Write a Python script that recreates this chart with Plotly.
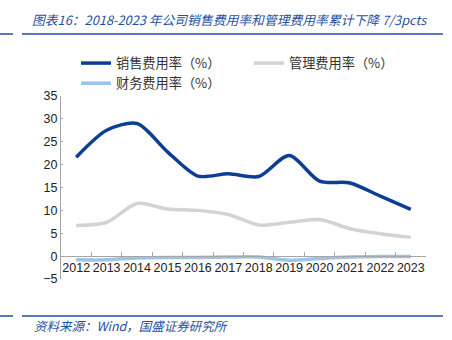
import plotly.graph_objects as go

years = ["2012", "2013", "2014", "2015", "2016", "2017", "2018", "2019", "2020", "2021", "2022", "2023"]
sales = [21.6, 27.5, 29.0, 22.8, 17.5, 18.0, 17.4, 22.0, 16.4, 16.0, 13.1, 10.2]
admin = [6.7, 7.4, 11.5, 10.3, 10.0, 9.1, 6.8, 7.4, 8.0, 6.0, 4.9, 4.1]
finance = [-0.8, -0.8, -0.4, -0.3, -0.3, -0.2, -0.2, -0.9, -0.5, -0.2, -0.1, -0.1]
names = ["销售费用率（%）", "管理费用率（%）", "财务费用率（%）"]
colors = ["#0c3f94", "#d3d3d3", "#9dc3e6"]

W, H = 452, 340
L, R, T, B = 61, 26, 96, 61
pw, ph = W - L - R, H - T - B

def px(x):
    return (x - L) / pw

def py(y):
    return (H - B - y) / ph

fig = go.Figure()
for name, vals, col in zip(names, [sales, admin, finance], colors):
    fig.add_trace(go.Scatter(x=years, y=vals, name=name, mode="lines",
                             line=dict(color=col, width=3.5, shape="spline", smoothing=0.8)))

font_cjk = "Noto Sans CJK SC, Liberation Sans, sans-serif"
title_color = "#1f4fa0"

fig.update_layout(
    width=W, height=H,
    margin=dict(l=L, r=R, t=T, b=B),
    paper_bgcolor="white", plot_bgcolor="white",
    showlegend=True,
    legend=dict(orientation="h", x=px(76), y=py(48), xanchor="left", yanchor="top",
                xref="paper", yref="paper",
                entrywidth=128, entrywidthmode="pixels",
                font=dict(family=font_cjk, size=13.2, color="#333333"),
                itemwidth=30, tracegroupgap=0, traceorder="normal",
                bgcolor="rgba(0,0,0,0)"),
    title=dict(text="<i>图表16：2018-2023 年公司销售费用率和管理费用率累计下降 7/3pcts</i>",
               xref="container", yref="container", x=32 / W, y=1 - 21 / H,
               xanchor="left", yanchor="middle",
               font=dict(family=font_cjk, size=12.8, color=title_color)),
    xaxis=dict(type="category", range=[-0.5, 11.5], anchor="free", position=5 / 40,
               showline=True, linecolor="#a6a6a6", linewidth=1,
               ticks="inside", ticklen=4, tickcolor="#a6a6a6", tickson="boundaries",
               tickangle=0, showgrid=False, zeroline=False,
               tickfont=dict(family="Liberation Sans, Arial, sans-serif", size=12.5, color="#222222")),
    yaxis=dict(range=[-5, 35], dtick=5, showline=True, linecolor="#a6a6a6", linewidth=1,
               ticks="inside", ticklen=2, tickcolor="#a6a6a6",
               showgrid=False, zeroline=False,
               tickfont=dict(family="Liberation Sans, Arial, sans-serif", size=12.5, color="#222222")),
    annotations=[dict(text="<i>资料来源：Wind，国盛证券研究所</i>", xref="paper", yref="paper",
                      x=px(32), y=py(325), xanchor="left", yanchor="middle", showarrow=False,
                      font=dict(family=font_cjk, size=12.5, color=title_color))],
    shapes=[
        dict(type="line", xref="paper", yref="paper", x0=px(22), x1=px(443), y0=py(34), y1=py(34),
             line=dict(color=title_color, width=1.5)),
        dict(type="line", xref="paper", yref="paper", x0=px(0), x1=px(13), y0=py(34), y1=py(34),
             line=dict(color=title_color, width=1.5)),
        dict(type="line", xref="paper", yref="paper", x0=px(22), x1=px(443), y0=py(316), y1=py(316),
             line=dict(color=title_color, width=1.5)),
        dict(type="line", xref="paper", yref="paper", x0=px(0), x1=px(13), y0=py(316), y1=py(316),
             line=dict(color=title_color, width=1.5)),
    ],
)

fig.write_html("out.html")
